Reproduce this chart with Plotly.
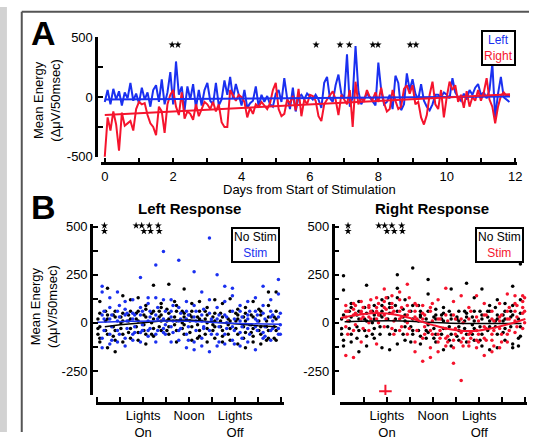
import plotly.graph_objects as go

W, H = 535, 440
BLUE = "#1a30f0"
RED = "#f5142d"
BLACK = "#000000"
FONT = "Liberation Sans, Arial, sans-serif"

# ---------------- Panel A data (one sample every 2 h) ----------------
sample_hours_A = list(range(0, 286, 2))
left_A = [
    -40, 60, -60, 70, -20, 50, -70, 40, -10, 120, -30, 30,
    -50, 80, -20, 40, -80, 60, 100, -40, 150, -60, 40, 210,
    -60, 300, 20, 90, -110, 90, -20, 110, -90, 60, -70, 60,
    120, -30, -60, 120, -70, -20, 140, 20, 170, -10, 110, 30,
    -70, 60, -90, -50, -30, 90, -80, 20, -40, 10, -60, -80,
    30, 60, -40, 160, -10, -100, 80, -120, 0, 20, -20, 30,
    0, -20, 20, -20, -90, 120, 170, -10, -40, 100, 190, 30,
    -10, 360, -80, 0, 430, 50, -60, -20, 30, 0, -30, -70,
    290, 60, -60, -40, 20, -100, 180, 120, -110, -60, 200, 60,
    150, 30, -20, 110, -30, -80, -110, -60, 20, 20, 0, 40,
    20, -10, 160, 40, 0, -30, 30, -20, 60, 20, 80, 110,
    20, 40, -10, 60, 280, -170, 30, 170, 0, -20, -40,
]
right_A = [
    -500, -170, -280, -120, -230, -450, -130, -240, -220, -200, -280, -100,
    -40, -60, -50, -150, -220, -250, -320, -80, -120, -300, -60, 20,
    60, -80, -150, 40, -180, -120, -140, -190, -60, -160, -100, -40,
    -60, -100, -40, -120, -60, -210, -250, -250, 60, 20, -30, 20,
    0, -40, -170, -90, -140, -60, -80, -40, -70, -100, -50, 60,
    120, -100, -160, -140, -20, -50, 10, -110, 70, -160, -20, -60,
    20, 10, -30, -160, -200, -60, -20, 20, 50, -20, -150, 20,
    -20, -60, 60, -250, 130, -60, -10, -30, 60, 0, -20, 40,
    -40, 80, -50, -120, -100, 60, -30, -100, -80, 70, 100, 30,
    100, -60, -40, -170, -230, -150, 20, 130, -60, -100, 60, -170,
    0, 130, 60, 100, -40, 20, -90, 50, -80, 0, -30, 60,
    -30, 40, 160, -20, -80, -220, -80, 10, 40, 10, 20,
]
trend_days = [0, 11.85]
trend_left = [-20, 5]
trend_right = [-150, 25]
sig_days_A = [1.97, 2.14, 6.18, 6.88, 7.15, 7.84, 7.99, 8.93, 9.10]
sig_y_A = [440] * len(sig_days_A)

# ---------------- Panel B data (values per hour-of-day bin) ----------------
bin_hours = list(range(24))
left_nostim = [
    [-100, 50, -80, 110, -20], [180, -60, 20, -130, 40], [-150, 30, -90, 60, -40],
    [140, -60, 10, -100, 50], [-80, 60, 120, -30, 20], [130, -90, 10, 60, -50],
    [-110, 70, 30, -60, 90], [195, -70, 60, 20, -30], [100, -40, 40, 80, 10],
    [200, -60, 20, 50, -20], [90, -100, 60, 10, -40], [175, 50, -60, 30, -10],
    [-90, 60, 100, -20, 30], [110, -70, 20, 60, -40], [-100, 80, 40, -30, 0],
    [120, -80, 50, -20, 10], [-70, 100, 30, -40, -100], [125, -90, 60, -30, 10],
    [-110, 70, 20, -60, 40], [-130, 50, 10, -50, 80], [110, -100, 30, -30, -70],
    [-60, 60, -20, 40, -110], [90, -80, 30, -40, 160], [160, -90, 20, -40, 60],
]
left_nostim_more = [
    [-30, 20, -60], [10, -40, 60], [-20, 40, -70], [30, -30, 0], [-50, 10, 40], [20, -20, 50],
    [-10, 40, -40], [50, 0, -60], [-20, 30, 60], [10, -40, 70], [30, -10, 110], [-30, 60, 0],
    [40, -50, 10], [-10, 30, -80], [20, -60, 60], [-40, 30, -10], [50, -20, 10], [-60, 20, -10],
    [10, -30, 50], [-20, 30, -80], [40, -10, -50], [10, -40, 70], [-20, 10, -90], [30, -20, -80],
]
left_stim = [
    [-130, 190, -80, 40, 160], [-110, 80, 20, -60, 130], [-100, 60, 160, -40, 10],
    [110, -80, 40, -120, 70], [-60, 120, 20, -90, 50], [235, -50, 40, -100, 80],
    [-40, 100, 10, -70, 130], [300, -60, 40, 130, -100], [370, -50, 20, 120, -30],
    [-100, 60, 120, -20, 30], [325, -90, 10, 80, -40], [110, -130, 60, -60, 20],
    [265, -100, 30, 90, -140], [-80, 40, 160, -120, 10], [440, -150, 50, 120, -40],
    [250, -120, 20, 80, -60], [190, -110, 40, -60, 110], [180, -90, 60, -20, 140],
    [-120, 90, 10, -50, 60], [-100, 110, 40, -30, 20], [-140, 60, 130, -20, 20],
    [190, -80, 50, -50, 90], [120, -40, 30, -90, 60], [225, -60, 30, 150, -30],
]
left_stim_more = [
    [20, -40, 60], [-20, 40, -90], [30, -60, 90], [-30, 10, 50], [40, -20, -50], [-10, 60, -40],
    [30, -30, 60], [-40, 20, 80], [60, -10, -60], [-50, 10, 90], [20, -30, 50], [-20, 40, -90],
    [10, -40, 60], [-30, 70, -20], [20, -60, 10], [-20, 40, -100], [30, -30, 0], [-40, 20, -110],
    [30, -20, -80], [-10, 60, -60], [40, -40, 10], [-20, 20, -70], [10, -30, 40], [-10, 50, -60],
]
right_nostim = [
    [245, -90, 40, -120, 170], [80, -60, 30, -100, 100], [-40, 60, -150, 20, 110],
    [195, -70, 10, 50, -120], [40, -30, 90, -80, 20], [120, -130, 60, 30, 90],
    [-140, 100, 50, -60, 80], [250, -110, 180, 130, 60], [-90, 40, 120, 10, -20],
    [285, -40, 90, 20, -60], [60, -70, 30, -110, 40], [225, 150, -50, 60, -10],
    [-100, 40, 20, -60, 70], [80, -30, -140, 50, 10], [175, -120, 20, -60, 40],
    [-90, 10, 60, -40, -20], [205, -60, 30, -100, 50], [130, -90, 10, 60, -30],
    [175, -120, 40, -60, 20], [-140, 60, -20, 90, 10], [-130, 120, 40, -60, 20],
    [60, -90, 100, -30, 20], [190, -110, -130, 40, 90], [305, -70, 50, -20, 120],
]
right_nostim_more = [
    [-30, 20, -60], [10, -30, 60], [40, -20, -80], [-40, 20, 80], [-60, 60, 0], [-20, 40, -60],
    [20, -20, 130], [-40, 90, 20], [70, -60, 30], [-20, 60, -100], [10, -40, 90], [-80, 20, -40],
    [30, -30, -80], [-60, 20, 40], [60, -20, -90], [30, -70, 20], [-30, 10, 60], [-60, 30, -10],
    [-20, 60, -90], [30, -40, 60], [-20, 10, 80], [-50, 40, 10], [-20, 30, 60], [-80, 20, -120],
]
right_stim = [
    [-170, 60, 30, -20, 90], [-180, 100, 40, -40, 70], [60, 20, 110, -100, 50],
    [80, -40, 90, 30, 0], [130, 80, 20, 60, -110], [175, 80, 40, -20, 110],
    [50, 140, -30, 80, 100], [160, -40, 60, 120, 20], [90, 40, -60, 200, 0],
    [100, 60, 30, -100, -150], [90, -80, 20, -200, 50], [-130, 60, -40, 80, -180],
    [-100, 20, -60, 120, -150], [180, -80, -30, 40, -120], [-210, 40, -90, -130, 110],
    [-300, -100, 20, -50, 140], [-60, -120, 80, 20, -100], [-90, 140, -40, 30, -130],
    [-170, 40, -80, 100, -20], [-60, 60, -150, 20, -90], [30, -130, 100, -30, 10],
    [-100, 60, 20, -60, 150], [100, -50, 60, 140, 10], [110, 50, 140, -30, 80],
]
right_stim_more = [
    [10, 60, -60], [50, 90, -10], [80, 30, -30], [60, 120, 20], [40, 100, 0], [70, 20, 130],
    [60, 10, -60], [30, 80, -20], [60, -30, 130], [20, -40, 90], [-20, 40, -60], [-60, 10, 100],
    [-40, 20, -80], [-70, 10, -100], [-30, -60, 20], [-80, 0, -120], [-50, 60, -80], [-60, 10, -100],
    [-30, -90, 40], [-40, 10, -120], [-60, 40, -100], [20, -40, 80], [30, -20, 90], [60, 0, 130],
]
right_outlier_hour = [5.8]
right_outlier_val = [-355]

# smoothed fits
fitL_nostim_h = [1, 3, 6, 9, 12, 15, 18, 21, 23.5]
fitL_nostim_v = [-20, -10, 0, 12, 15, 5, -8, -15, -20]
fitL_stim_h = [0, 4, 8, 12, 16, 20, 24]
fitL_stim_v = [3, 8, 10, 8, 0, -5, -8]
fitR_nostim_h = [0.5, 4, 8, 12, 16, 20, 23.5]
fitR_nostim_v = [5, 10, 10, 2, -3, -3, -3]
fitR_stim_h = [0, 2, 4, 6, 8, 10, 12, 14, 16, 18, 20, 22, 24]
fitR_stim_v = [25, 40, 50, 48, 35, 12, -12, -32, -42, -40, -25, -5, 20]

sigB_hours_L = [0.95, 0.95, 5.08, 5.81, 6.8, 7.96, 6.1, 6.97, 8.1]
sigB_hours_R = [0.94, 0.94, 4.93, 5.7, 6.64, 7.92, 6.0, 6.95, 8.01]
sigB_vals = [505, 476, 505, 505, 505, 505, 476, 476, 476]

hour_ticks = [0, 3, 6, 9, 12, 15, 18, 21, 24]
hour_ticktext = ["", "", "Lights<br>On", "", "Noon", "", "Lights<br>Off", "", ""]


def px(x):
    return x / W


def py(y):
    return 1 - y / H


def flat(groups, offset):
    xs, ys = [], []
    for h, vals in zip(bin_hours, groups):
        for v in vals:
            xs.append(h + offset)
            ys.append(v)
    return xs, ys


fig = go.Figure()
STAR = dict(symbol="star", size=5.5, color=BLACK)
DOT = 3.5

# Panel A
days_A = [h / 24 for h in sample_hours_A]
fig.add_trace(go.Scatter(x=days_A, y=left_A, mode="lines", line=dict(color=BLUE, width=2), xaxis="x", yaxis="y"))
fig.add_trace(go.Scatter(x=days_A, y=right_A, mode="lines", line=dict(color=RED, width=2), xaxis="x", yaxis="y"))
fig.add_trace(go.Scatter(x=trend_days, y=trend_left, mode="lines", line=dict(color=BLUE, width=2), xaxis="x", yaxis="y"))
fig.add_trace(go.Scatter(x=trend_days, y=trend_right, mode="lines", line=dict(color=RED, width=2), xaxis="x", yaxis="y"))
fig.add_trace(go.Scatter(x=sig_days_A, y=sig_y_A, mode="markers", cliponaxis=False,
                         marker=STAR, xaxis="x", yaxis="y"))

# Panel B scatter
for groups, off, color, xa, ya in [
    (left_nostim, 0.35, BLACK, "x2", "y2"), (left_nostim_more, 0.1, BLACK, "x2", "y2"),
    (left_stim, 0.65, BLUE, "x2", "y2"), (left_stim_more, 0.9, BLUE, "x2", "y2"),
    (right_nostim, 0.35, BLACK, "x3", "y3"), (right_nostim_more, 0.1, BLACK, "x3", "y3"),
    (right_stim, 0.65, RED, "x3", "y3"), (right_stim_more, 0.9, RED, "x3", "y3"),
]:
    xs, ys = flat(groups, off)
    fig.add_trace(go.Scatter(x=xs, y=ys, mode="markers", marker=dict(size=DOT, color=color), xaxis=xa, yaxis=ya))

fig.add_trace(go.Scatter(x=fitL_nostim_h, y=fitL_nostim_v, mode="lines", line=dict(color=BLACK, width=1.5), xaxis="x2", yaxis="y2"))
fig.add_trace(go.Scatter(x=fitL_stim_h, y=fitL_stim_v, mode="lines", line=dict(color=BLUE, width=1.5, shape="spline"), xaxis="x2", yaxis="y2"))
fig.add_trace(go.Scatter(x=sigB_hours_L, y=sigB_vals, mode="markers", cliponaxis=False,
                         marker=STAR, xaxis="x2", yaxis="y2"))

fig.add_trace(go.Scatter(x=fitR_nostim_h, y=fitR_nostim_v, mode="lines", line=dict(color=BLACK, width=1.5, shape="spline"), xaxis="x3", yaxis="y3"))
fig.add_trace(go.Scatter(x=fitR_stim_h, y=fitR_stim_v, mode="lines", line=dict(color=RED, width=2, shape="spline"), xaxis="x3", yaxis="y3"))
fig.add_trace(go.Scatter(x=right_outlier_hour, y=right_outlier_val, mode="markers",
                         marker=dict(symbol="cross-thin-open", size=9, color=RED, line=dict(color=RED, width=2)),
                         xaxis="x3", yaxis="y3"))
fig.add_trace(go.Scatter(x=sigB_hours_R, y=sigB_vals, mode="markers", cliponaxis=False,
                         marker=STAR, xaxis="x3", yaxis="y3"))

ax = dict(showline=True, linecolor=BLACK, linewidth=2.5, ticks="inside", ticklen=5, tickwidth=2,
          tickcolor=BLACK, showgrid=False, zeroline=False, anchor="free",
          tickfont=dict(family=FONT, size=13, color=BLACK), fixedrange=True)

fig.update_layout(
    width=W, height=H, margin=dict(l=0, r=0, t=0, b=0),
    paper_bgcolor="white", plot_bgcolor="rgba(0,0,0,0)", showlegend=False,
    font=dict(family=FONT, size=13, color=BLACK),
    xaxis=dict(ax, domain=[px(102.5), px(522.7)], range=[-0.1, 12.05], position=py(162),
               tickvals=list(range(13)), ticktext=[str(i) if i % 2 == 0 else "" for i in range(13)]),
    yaxis=dict(ax, domain=[py(155.6), py(31.1)], range=[-505, 505], position=px(97.3),
               tickvals=[-500, -250, 0, 250, 500], ticktext=["-500", "", "0", "", "500"]),
    xaxis2=dict(ax, domain=[px(97.1), px(287)], range=[-0.15, 24.35], position=py(410),
                tickvals=hour_ticks, ticktext=hour_ticktext),
    yaxis2=dict(ax, domain=[py(401.7), py(224.3)], range=[-375, 515], position=px(92),
                tickvals=[-375, -250, -125, 0, 125, 250, 375, 500],
                ticktext=["", "-250", "", "0", "", "250", "", "500"]),
    xaxis3=dict(ax, domain=[px(343.9), px(532.9)], range=[-0.1, 24.2], position=py(410),
                tickvals=hour_ticks, ticktext=hour_ticktext),
    yaxis3=dict(ax, domain=[py(401.7), py(224.3)], range=[-375, 515], position=px(336.3),
                tickvals=[-375, -250, -125, 0, 125, 250, 375, 500],
                ticktext=["", "-250", "", "0", "", "250", "", "500"]),
)

shapes = [
    dict(type="rect", xref="paper", yref="paper", x0=0, x1=px(7), y0=0, y1=1,
         fillcolor="#d2d2d2", line=dict(width=0), layer="below"),
    dict(type="line", xref="paper", yref="paper", x0=px(22), x1=px(22), y0=0, y1=py(5),
         line=dict(color="#555555", width=2)),
    dict(type="line", xref="paper", yref="paper", x0=px(22), x1=1, y0=py(5), y1=py(5),
         line=dict(color="#555555", width=2)),
]
fig.update_layout(shapes=shapes)


def ann(text, x, y, size=13, bold=False, angle=0, **kw):
    t = f"<b>{text}</b>" if bold else text
    d = dict(text=t, x=px(x), y=py(y), xref="paper", yref="paper", showarrow=False,
             xanchor="center", yanchor="middle", textangle=angle,
             font=dict(family=FONT, size=size, color=BLACK))
    d.update(kw)
    return d


annotations = [
    ann("A", 44, 27, size=34, bold=True),
    ann("B", 44, 207, size=34, bold=True),
    ann("Mean Energy<br>(ΔμV/50msec)", 47.5, 96, angle=-90),
    ann("Mean Energy<br>(ΔμV/50msec)", 45, 310, angle=-90),
    ann("Days from Start of Stimulation", 313.5, 189),
    ann("Left Response", 192, 209, size=15, bold=True),
    ann("Right Response", 437, 209, size=15, bold=True),
    ann(f'<span style="color:{BLUE}">Left</span><br><span style="color:{RED}">Right</span>', 504, 42, size=12,
        bordercolor=BLACK, borderwidth=2, borderpad=1, bgcolor="white"),
    ann(f'No Stim<br><span style="color:{BLUE}">Stim</span>', 258.5, 246, size=12,
        bordercolor=BLACK, borderwidth=2, borderpad=1, bgcolor="white"),
    ann(f'No Stim<br><span style="color:{RED}">Stim</span>', 505.5, 246, size=12,
        bordercolor=BLACK, borderwidth=2, borderpad=1, bgcolor="white"),
]
fig.update_layout(annotations=annotations)

fig.write_html("out.html", config={"displayModeBar": False},
               post_script="document.body.style.margin='0';document.body.style.overflow='hidden';")
